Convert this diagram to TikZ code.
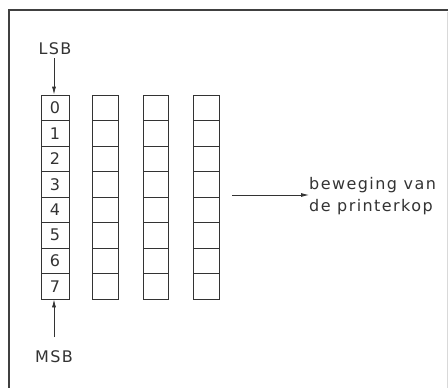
\documentclass[tikz,border=0pt]{standalone}
\usepackage{fontspec}
\setmainfont{DejaVu Sans}[LetterSpace=9]
\usetikzlibrary{arrows.meta}
\begin{document}
\begin{tikzpicture}[x=1pt,y=-1pt,
  cell/.style={draw=black!80,line width=0.8pt,minimum height=25.5pt,inner sep=0pt,font=\fontsize{16}{16}\selectfont,text=black!80},
  lbl/.style={font=\fontsize{16}{22}\selectfont,text=black!80,inner sep=0pt},
  arr/.style={draw=black!80,line width=0.8pt,-{Latex[length=8pt,width=4pt]}},
  frame/.style={draw=black!75,line width=2pt}]
\useasboundingbox (0,0) rectangle (448,388);
\fill[white] (0,0) rectangle (448,388);
\draw[frame] (8.5,388) -- (8.5,10) -- (448,10);
\draw[black!15,line width=0.8pt] (447,12) -- (447,388);
\foreach \x/\w [count=\c] in {55/28,105/26,155.5/25,206/26}{
  \foreach \r in {0,...,7}{
    \node[cell,minimum width=\w pt] (c\c-\r) at (\x,{107.75+25.5*\r}) {\ifnum\c=1 \r\fi};
  }
}
\node[lbl] (lsb) at (55,49) {LSB};
\node[lbl] (msb) at (54,357) {MSB};
\coordinate (lsbt) at (54,58);
\coordinate (msbt) at (54,337);
\draw[arr] (lsbt) -- (c1-0.north -| lsbt);
\draw[arr] (msbt) -- (c1-7.south -| msbt);
\coordinate (mv0) at (232,195);
\node[lbl,anchor=west,align=left] (mv) at (309,196) {beweging van\\de printerkop};
\draw[arr] (mv0) -- (mv.west |- mv0);
\end{tikzpicture}
\end{document}
